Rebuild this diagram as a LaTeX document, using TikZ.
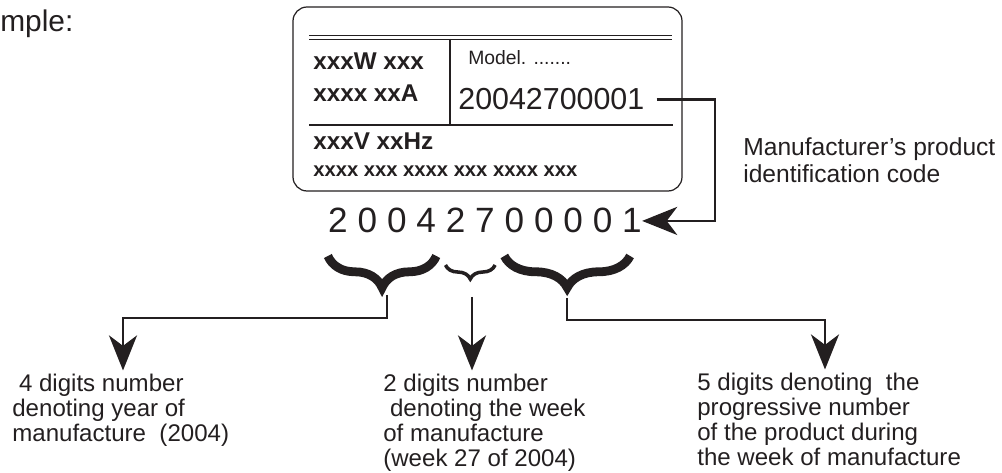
\documentclass[tikz,border=0pt]{standalone}
\usepackage{fontspec}
\setmainfont{Liberation Sans}
\usetikzlibrary{arrows.meta,decorations.pathreplacing,calc}
\definecolor{ink}{RGB}{35,31,32}
\tikzset{
  txt/.style={inner sep=0pt,anchor=base west},
  note/.style={inner sep=0pt,anchor=north west,align=left,font=\fontsize{13.7}{14.2}\selectfont},
  digit/.style={inner sep=0pt,anchor=base,font=\fontsize{20}{24}\selectfont},
  pointer/.style={-{Stealth[length=20pt,width=16pt,inset=6pt]},line width=1.1pt},
  curly/.style={decorate,decoration={brace,mirror,amplitude=#1}},
}

\begin{document}
\begin{tikzpicture}[x=0.02cm,y=-0.02cm,color=ink,text=ink]
\useasboundingbox (0,0) rectangle (1002,473);

\coordinate (turn) at (715,0);
\coordinate (braceline) at (0,256);
\coordinate (smallline) at (0,265);
\coordinate (yeartip) at (387,295);
\coordinate (yearturn) at (123,318);
\coordinate (weektip) at (472,297);
\coordinate (prodtip) at (567,298);
\coordinate (prodturn) at (825,320);

\node[txt,font=\fontsize{17}{20}\selectfont] (head) at (0,32) {mple:};

% rating plate
\draw[line width=0.7pt,rounded corners=8pt] (293,7) rectangle (682,191);
\draw[line width=0.5pt] (309,35) -- (672,35) (309,39) -- (672,39);
\draw[line width=0.6pt] (450,39) -- (450,125);
\draw[line width=1.1pt] (309,125) -- (673,125);

\node[txt,font=\bfseries\fontsize{13.8}{16}\selectfont] (power) at (313,70) {xxxW xxx};
\node[txt,font=\bfseries\fontsize{13.8}{16}\selectfont] (current) at (313,102) {xxxx xxA};
\node[txt,font=\fontsize{11}{13}\selectfont] (model) at (468,65) {Model. .......};
\node[txt,font=\fontsize{17.3}{20}\selectfont] (serial) at (458,110) {20042700001};
\node[txt,font=\bfseries\fontsize{13.8}{16}\selectfont] (voltage) at (313,150) {xxxV xxHz};
\node[txt,font=\bfseries\fontsize{11.5}{14}\selectfont] (specs) at (313,177) {xxxx xxx xxxx xxx xxxx xxx};

\node[note,font=\fontsize{14}{15.3}\selectfont] (mfrnote) at (743,137) {Manufacturer's product\\identification code};

% code digits
\foreach \dg [count=\i] in {2,0,0,4,2,7,0,0,0,0,1}
  \node[digit] (d\i) at ({338+29.4*(\i-1)},233) {\dg};

\draw[pointer,line width=1.4pt] ($(serial.east)+(12,0)$) -- (serial.east -| turn) |- (d11.east);

\draw[curly=18pt,line width=5pt] (d1.west |- braceline) -- (d4.east |- braceline);
\draw[curly=8pt,line width=2pt] (d5.west |- smallline) -- (d6.east |- smallline);
\draw[curly=18pt,line width=5pt] (d7.west |- braceline) -- ($(d11.east |- braceline)+(-12,0)$);

% meanings
\node[note] (yearnote) at (12,374) {\ 4 digits number\\denoting year of\\manufacture\ \ (2004)};
\node[note] (weeknote) at (383,374) {2 digits number\\\ denoting the week\\of manufacture\\(week 27 of 2004)};
\node[note] (prodnote) at (697,373) {5 digits denoting\ \ the\\progressive number\\of the product during\\the week of manufacture};

\draw[pointer,shorten >=2pt] (yeartip) |- (yearturn) -- (yearturn |- yearnote.north);
\draw[pointer,shorten >=2pt] (weektip) -- (weektip |- weeknote.north);
\draw[pointer,shorten >=2pt] (prodtip) |- (prodturn) -- (prodturn |- prodnote.north);
\end{tikzpicture}
\end{document}
